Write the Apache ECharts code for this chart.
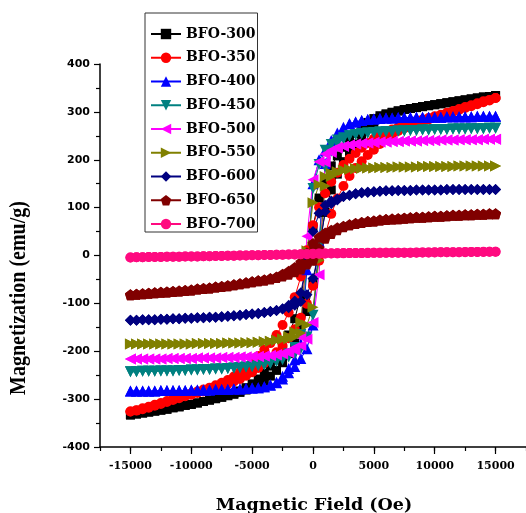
<!DOCTYPE html>
<html><head><meta charset="utf-8">
<script src="https://cdn.jsdelivr.net/npm/echarts@6/dist/echarts.min.js"></script>
<style>html,body{margin:0;padding:0;background:#fff}#c{width:526px;height:513px}</style>
</head><body><div id="c"></div>
<script>
const seriesNames = ['BFO-300','BFO-350','BFO-400','BFO-450','BFO-500','BFO-550','BFO-600','BFO-650','BFO-700'];
const xTickLabels = [-15000,-10000,-5000,0,5000,10000,15000];
const yTickLabels = [-400,-300,-200,-100,0,100,200,300,400];

// field sweep: descending branch then ascending branch (Oe)
const fieldDown = [15000,14500,14000,13500,13000,12500,12000,11500,11000,10500,10000,9500,9000,8500,8000,7500,7000,6500,6000,5500,5000,4500,4000,3500,3000,2500,2000,1500,1000,500,0,-500,-1000,-1500,-2000,-2500,-3000,-3500,-4000,-4500,-5000,-5500,-6000,-6500,-7000,-7500,-8000,-8500,-9000,-9500,-10000,-10500,-11000,-11500,-12000,-12500,-13000,-13500,-14000,-14500,-15000];
const fieldUp = [-15000,-14500,-14000,-13500,-13000,-12500,-12000,-11500,-11000,-10500,-10000,-9500,-9000,-8500,-8000,-7500,-7000,-6500,-6000,-5500,-5000,-4500,-4000,-3500,-3000,-2500,-2000,-1500,-1000,-500,0,500,1000,1500,2000,2500,3000,3500,4000,4500,5000,5500,6000,6500,7000,7500,8000,8500,9000,9500,10000,10500,11000,11500,12000,12500,13000,13500,14000,14500,15000];

// magnetization (emu/g)
const bfo300Down = [334,332,331,329,327,325,323,321,319,317,315,313,311,309,307,305,302,299,296,292,286,278,268,255,241,226,208,187,158,120,60,-15,-85,-132,-166,-193,-214,-231,-246,-258,-268,-276,-283,-288,-292,-296,-299,-302,-305,-308,-311,-313,-316,-318,-321,-323,-325,-327,-329,-331,-333];
const bfo300Up = [-333,-331,-329,-327,-325,-323,-321,-318,-316,-313,-311,-308,-305,-302,-299,-296,-293,-290,-286,-281,-276,-270,-262,-252,-240,-224,-205,-183,-153,-117,-58,17,90,137,170,196,215,233,248,266,277,287,294,299,302,305,307,309,311,313,315,317,319,321,323,325,327,329,331,332,334];
const bfo350Down = [329,325,322,318,314,310,306,302,298,294,291,287,284,280,276,272,268,263,258,251,244,235,225,214,202,189,173,154,130,101,63,11,-44,-87,-119,-145,-166,-183,-197,-210,-221,-233,-244,-253,-260,-266,-271,-276,-280,-284,-288,-292,-296,-300,-304,-308,-312,-316,-319,-323,-326];
const bfo350Up = [-326,-324,-321,-318,-314,-310,-306,-302,-298,-294,-291,-287,-284,-280,-276,-272,-268,-263,-258,-251,-244,-235,-225,-214,-202,-189,-173,-154,-130,-101,-63,-11,44,87,119,145,166,183,197,210,221,233,244,253,260,266,271,276,280,284,288,292,296,300,304,308,312,316,320,324,329];
const bfo400Down = [291,291,291,291,290,290,290,290,290,289,289,289,289,289,288,288,288,287,287,286,285,284,282,279,275,268,256,240,220,200,150,-30,-185,-218,-236,-252,-265,-270,-274,-276,-277,-278,-279,-279,-280,-280,-280,-281,-281,-281,-281,-282,-282,-282,-282,-282,-283,-283,-283,-283,-283];
const bfo400Up = [-283,-283,-283,-283,-283,-282,-282,-282,-282,-282,-281,-281,-281,-281,-280,-280,-280,-279,-279,-278,-277,-276,-274,-271,-266,-258,-245,-232,-215,-195,-145,30,192,230,250,264,275,279,282,284,285,286,287,287,288,288,288,289,289,289,289,289,290,290,290,290,290,291,291,291,291];
const bfo450Down = [266,266,265,265,265,264,264,264,263,263,263,262,262,261,261,260,260,259,259,258,257,256,255,253,250,246,241,232,220,190,140,-20,-165,-192,-205,-214,-221,-225,-228,-230,-232,-233,-234,-235,-236,-237,-237,-238,-238,-239,-239,-240,-240,-241,-241,-241,-242,-242,-242,-243,-243];
const bfo450Up = [-243,-243,-242,-242,-242,-241,-241,-241,-240,-240,-239,-239,-238,-238,-237,-237,-236,-235,-234,-233,-232,-230,-228,-225,-221,-218,-212,-205,-195,-170,-125,20,185,218,234,243,250,253,255,256,257,258,259,259,260,260,261,261,262,262,263,263,263,264,264,264,265,265,265,266,266];
const bfo500Down = [243,243,243,242,242,242,242,241,241,241,240,240,240,239,239,239,238,238,237,237,236,235,234,233,231,228,226,220,212,196,158,40,-170,-192,-200,-204,-207,-209,-210,-211,-211,-212,-212,-213,-213,-213,-214,-214,-214,-214,-215,-215,-215,-215,-215,-216,-216,-216,-216,-216,-216];
const bfo500Up = [-216,-216,-216,-216,-216,-216,-215,-215,-215,-215,-215,-214,-214,-214,-214,-213,-213,-213,-212,-212,-211,-211,-210,-209,-208,-206,-203,-198,-188,-175,-140,-40,195,215,224,228,231,233,234,235,236,237,237,238,238,239,239,239,240,240,240,241,241,241,242,242,242,242,243,243,243];
const bfo550Down = [187,187,187,187,187,187,187,186,186,186,186,186,186,185,185,185,185,184,184,184,183,183,182,181,180,178,175,172,165,148,110,10,-140,-160,-169,-174,-177,-179,-180,-181,-182,-182,-183,-183,-183,-184,-184,-184,-184,-184,-185,-185,-185,-185,-185,-185,-185,-185,-185,-185,-185];
const bfo550Up = [-185,-185,-185,-185,-185,-185,-185,-185,-185,-185,-185,-184,-184,-184,-184,-184,-183,-183,-183,-182,-182,-181,-180,-179,-177,-175,-174,-170,-162,-145,-108,-10,145,165,173,178,180,181,182,183,183,184,184,184,185,185,185,185,186,186,186,186,186,186,187,187,187,187,187,187,187];
const bfo600Down = [138,138,138,138,138,138,138,138,138,137,137,137,137,137,136,136,136,135,135,134,133,132,131,129,126,123,118,114,105,88,50,-10,-78,-95,-104,-111,-115,-117,-119,-121,-122,-123,-125,-126,-127,-128,-129,-129,-130,-130,-131,-131,-132,-132,-133,-133,-134,-134,-134,-135,-135];
const bfo600Up = [-135,-135,-134,-134,-134,-133,-133,-132,-132,-131,-131,-130,-130,-129,-129,-128,-127,-126,-125,-123,-122,-121,-119,-117,-115,-112,-109,-104,-96,-82,-48,10,92,108,116,123,126,129,131,132,133,134,135,135,136,136,136,137,137,137,137,137,138,138,138,138,138,138,138,138,138];
const bfo650Down = [87,87,86,86,85,85,84,84,83,82,82,81,80,80,79,78,77,76,75,74,72,71,69,67,64,61,58,53,47,38,25,5,-14,-25,-33,-39,-45,-48,-51,-53,-55,-57,-59,-61,-63,-65,-66,-68,-69,-70,-72,-73,-74,-75,-76,-77,-78,-79,-80,-81,-82];
const bfo650Up = [-82,-81,-80,-79,-78,-77,-76,-75,-74,-73,-72,-70,-69,-68,-66,-65,-63,-61,-59,-57,-55,-53,-51,-49,-46,-43,-39,-34,-28,-18,-10,15,36,46,54,60,64,67,69,71,72,74,75,76,77,78,79,80,80,81,82,82,83,84,84,85,85,86,86,87,87];
const bfo700Down = [8,8,8,7.5,7.5,7.5,7,7,7,7,7,6.5,6.5,6.5,6,6,6,6,6,5.5,5.5,5.5,5,5,5,5,4.5,4.5,4,4,3.5,3,2.5,2,2,1.5,1.5,1,1,0.5,0.5,0,0,-0.5,-0.5,-1,-1,-1.5,-1.5,-2,-2,-2,-2.5,-2.5,-2.5,-3,-3,-3,-3.5,-3.5,-4];
const bfo700Up = [-4,-3.5,-3.5,-3,-3,-3,-2.5,-2.5,-2.5,-2,-2,-2,-1.5,-1.5,-1,-1,-0.5,-0.5,0,0,0.5,0.5,1,1,1.5,1.5,2,2,2.5,2.5,3,3.5,4,4,4.5,4.5,5,5,5,5,5.5,5.5,5.5,6,6,6,6,6,6.5,6.5,6.5,7,7,7,7,7,7.5,7.5,7.5,8,8];

const downs = [bfo300Down,bfo350Down,bfo400Down,bfo450Down,bfo500Down,bfo550Down,bfo600Down,bfo650Down,bfo700Down];
const ups = [bfo300Up,bfo350Up,bfo400Up,bfo450Up,bfo500Up,bfo550Up,bfo600Up,bfo650Up,bfo700Up];

const colors = ['#000000','#ff0000','#0000ff','#008080','#ff00ff','#808000','#000080','#800000','#ff0a80'];
const pentagon = 'path://M0,-10L9.51,-3.09L5.88,8.09L-5.88,8.09L-9.51,-3.09Z';
const symbols = ['rect','circle','triangle','triangle','triangle','triangle','diamond',pentagon,'circle'];
const rotates = [0,0,0,180,90,-90,0,0,0];
const sizes = [9,10,11,11,11,11,11,11,10];

const series = seriesNames.map((name,i)=>({
  name, type:'line', xAxisIndex:0, yAxisIndex:0,
  data: fieldDown.map((h,k)=>[h,downs[i][k]]).concat(fieldUp.map((h,k)=>[h,ups[i][k]])),
  symbol: symbols[i], symbolRotate: rotates[i], symbolSize: sizes[i], showAllSymbol:true,
  lineStyle:{color:colors[i], width:1}, itemStyle:{color:colors[i]},
  emphasis:{disabled:true}, animation:false
}));

const chart = echarts.init(document.getElementById('c'), null, {renderer:'canvas'});
const axisLineStyle = {color:'#000', width:1.5};
chart.setOption({
  animation:false,
  backgroundColor:'#fff',
  grid:[
    {left:100, right:0, top:64, bottom:66},
    {left:100+426*2500/35000, right:426*2500/35000, top:64, bottom:66}
  ],
  xAxis:[
    {type:'value', gridIndex:0, min:-17500, max:17500, interval:2500,
     axisLine:{show:true, onZero:false, lineStyle:axisLineStyle},
     axisTick:{show:true, length:4, lineStyle:{color:'#000', width:1.2}},
     axisLabel:{show:false}, splitLine:{show:false}},
    {type:'value', gridIndex:1, min:-15000, max:15000, interval:5000,
     axisLine:{show:false, onZero:false},
     axisTick:{show:true, length:7, lineStyle:{color:'#000', width:1.2}},
     axisLabel:{show:true, margin:14, color:'#000', fontFamily:'DejaVu Serif', fontWeight:'bold', fontSize:11,
       formatter:v=> xTickLabels.indexOf(v)>=0 ? String(v) : ''},
     splitLine:{show:false}}
  ],
  yAxis:[
    {type:'value', gridIndex:0, min:-400, max:400, interval:100,
     axisLine:{show:true, onZero:false, lineStyle:axisLineStyle},
     axisTick:{show:true, length:6, lineStyle:{color:'#000', width:1.2}},
     minorTick:{show:true, splitNumber:2, length:4, lineStyle:{color:'#000', width:1.2}},
     axisLabel:{show:true, margin:10, color:'#000', fontFamily:'DejaVu Sans', fontWeight:'bold', fontSize:11,
       formatter:v=> yTickLabels.indexOf(v)>=0 ? String(v) : ''},
     splitLine:{show:false}},
    {type:'value', gridIndex:1, min:-400, max:400, show:false}
  ],
  legend:{
    show:true, orient:'vertical', left:145, top:13,
    data: seriesNames,
    itemWidth:30, itemHeight:13, itemGap:9.75,
    padding:[14,2,1,5],
    borderColor:'#333', borderWidth:1, backgroundColor:'#fff',
    textStyle:{color:'#000', fontFamily:'DejaVu Serif', fontWeight:'bold', fontSize:14, lineHeight:14},
    selectedMode:false
  },
  graphic:[
    {type:'text', x:314, y:505, style:{text:'Magnetic Field (Oe)', font:'bold 17.5px "DejaVu Serif"', fill:'#000', textAlign:'center', textVerticalAlign:'middle'}},
    {type:'text', x:19, y:298, rotation:Math.PI/2, scaleY:1.15, style:{text:'Magnetization (emu/g)', font:'bold 20px "Liberation Serif"', fill:'#000', textAlign:'center', textVerticalAlign:'middle'}}
  ],
  series
});
</script></body></html>
